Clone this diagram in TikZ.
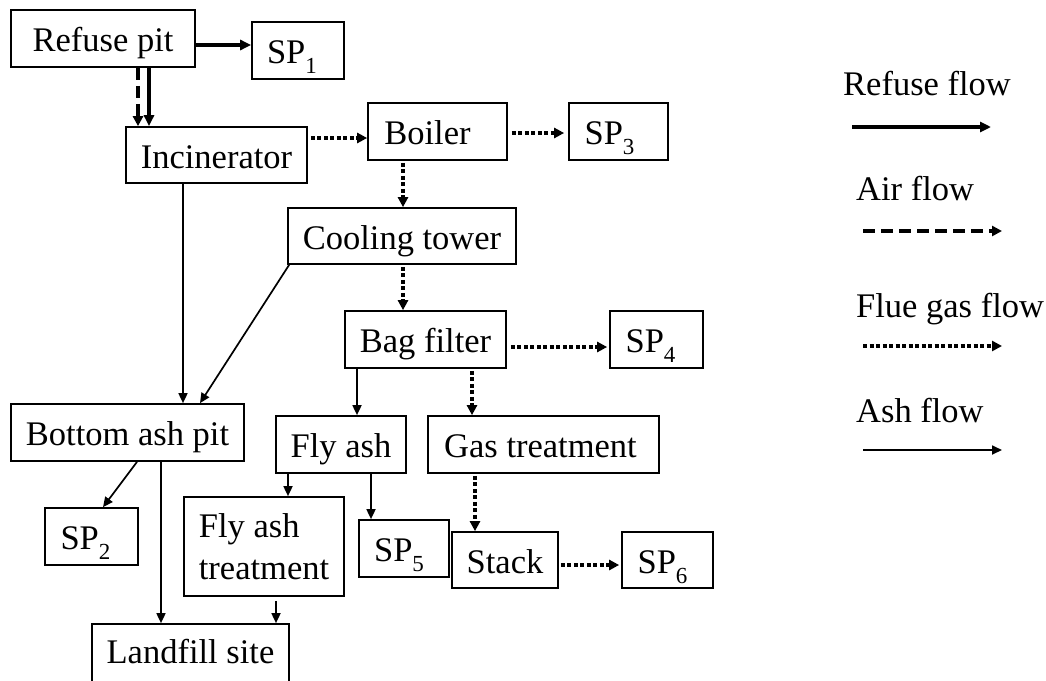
\documentclass[tikz,border=0pt]{standalone}
\usepackage{fontspec}
\setmainfont{Liberation Serif}
\usetikzlibrary{arrows.meta}
\newcommand\spsub[1]{\raisebox{-10pt}{\fontsize{23pt}{23pt}\selectfont #1}}
\begin{document}
\begin{tikzpicture}[x=1pt,y=-1pt,
  plain/.style={draw,line width=1.7pt,inner sep=0pt,
    font=\fontsize{34.5pt}{42pt}\selectfont},
  box/.style={plain,text height=26pt,text depth=0pt},
  refuse/.style={line width=3.3pt,-{Triangle[length=11pt,width=10pt]}},
  air/.style={line width=3.3pt,dash pattern=on 12pt off 6pt,
    -{Triangle[length=10pt,width=10pt]}},
  flue/.style={line width=3.5pt,dash pattern=on 4pt off 2.5pt,
    -{Triangle[length=10pt,width=10pt]}},
  ash/.style={line width=1.7pt,-{Triangle[length=10pt,width=9pt]}},
  legend/.style={anchor=base west,inner sep=0pt,
    font=\fontsize{34.5pt}{42pt}\selectfont}]
\useasboundingbox (0,0) rectangle (1046,680);

% process boxes
\node[box,minimum width=184pt,minimum height=57pt] (rpit)   at (103,38.5)   {Refuse pit};
\node[box,minimum width=92pt, minimum height=57pt] (sp1)    at (298,50.5)   {SP\spsub{1}\kern12pt};
\node[box,minimum width=181pt,minimum height=56pt] (incin)  at (216.5,155)  {Incinerator};
\node[box,minimum width=139pt,minimum height=57pt] (boiler) at (437.5,131.5){Boiler\kern20pt};
\node[box,minimum width=99pt, minimum height=57pt] (sp3)    at (618.5,131.5){SP\spsub{3}\kern18pt};
\node[box,minimum width=228pt,minimum height=56pt] (cool)   at (402,236)    {Cooling tower};
\node[box,minimum width=161pt,minimum height=57pt] (bag)    at (425.5,339.5){Bag filter};
\node[box,minimum width=93pt, minimum height=57pt] (sp4)    at (656.5,339.5){SP\spsub{4}\kern12pt};
\node[box,minimum width=233pt,minimum height=57pt] (bash)   at (127.5,432.5){Bottom ash pit};
\node[box,minimum width=130pt,minimum height=57pt] (flyash) at (341,444.5)  {Fly ash};
\node[box,minimum width=231pt,minimum height=57pt] (gas)    at (543.5,444.5){Gas treatment\kern6pt};
\node[box,minimum width=93pt, minimum height=57pt] (sp2)    at (91.5,536.5) {SP\spsub{2}\kern12pt};
\node[plain,minimum width=160pt,minimum height=99pt,align=left] (fat) at (264,546.5) {Fly ash\\treatment};
\node[box,minimum width=90pt, minimum height=57pt] (sp5)    at (404,548.5)  {SP\spsub{5}\kern10pt};
\node[box,minimum width=106pt,minimum height=56pt] (stack)  at (505,560)    {Stack};
\node[box,minimum width=91pt, minimum height=56pt] (sp6)    at (667.5,560)  {SP\spsub{6}\kern10pt};
\node[box,minimum width=197pt,minimum height=64pt,text depth=12pt] (land) at (190.5,656) {Landfill site};

% refuse and air
\draw[refuse] (rpit.east |- 0,45) -- (sp1.west |- 0,45);
\draw[air]    (rpit.south -| 138,0) -- (incin.north -| 138,0);
\draw[refuse] (rpit.south -| 149,0) -- (incin.north -| 149,0);

% flue gas
\draw[flue,shorten <=3pt] (incin.east |- 0,138) -- (boiler.west |- 0,138);
\draw[flue,shorten <=4pt,shorten >=4pt] (boiler.east |- 0,133) -- (sp3.west |- 0,133);
\draw[flue,shorten <=2pt] (boiler.south -| 403,0) -- (cool.north -| 403,0);
\draw[flue,shorten <=2pt] (cool.south -| 403,0) -- (bag.north -| 403,0);
\draw[flue,shorten <=4pt,shorten >=2pt] (bag.east |- 0,347) -- (sp4.west |- 0,347);
\draw[flue,shorten <=2pt] (bag.south -| 472,0) -- (gas.north -| 472,0);
\draw[flue,shorten <=2pt] (gas.south -| 475,0) -- (stack.north -| 475,0);
\draw[flue,shorten <=2pt,shorten >=2pt] (stack.east |- 0,565) -- (sp6.west |- 0,565);

% ash
\draw[ash] (incin.south -| 183,0) -- (bash.north -| 183,0);
\draw[ash] ([xshift=2pt]cool.south west) -- (bash.north -| 200,0);
\draw[ash] (bag.south -| 357,0) -- (flyash.north -| 357,0);
\draw[ash] (bash.south -| 137,0) -- (sp2.north -| 103,0);
\draw[ash] (bash.south -| 161,0) -- (land.north -| 161,0);
\draw[ash] (flyash.south -| 288,0) -- (fat.north -| 288,0);
\draw[ash] (flyash.south -| 371,0) -- (sp5.north -| 371,0);
\draw[ash,shorten <=4pt] (fat.south -| 276,0) -- (land.north -| 276,0);

% legend
\node[legend] (lref) at (843,95)  {Refuse flow};
\node[legend] (lair) at (856,200) {Air flow};
\node[legend] (lflue) at (856,317) {Flue gas flow};
\node[legend] (lash) at (856,422) {Ash flow};
\coordinate (r1) at (852,127);  \coordinate (r2) at (991,127);
\coordinate (a1) at (863,231);  \coordinate (a2) at (1002,231);
\coordinate (f1) at (863,346);  \coordinate (f2) at (1002,346);
\coordinate (s1) at (863,450);  \coordinate (s2) at (1002,450);
\draw[refuse] (r1) -- (r2);
\draw[air]    (a1) -- (a2);
\draw[flue]   (f1) -- (f2);
\draw[ash]    (s1) -- (s2);
\end{tikzpicture}
\end{document}
